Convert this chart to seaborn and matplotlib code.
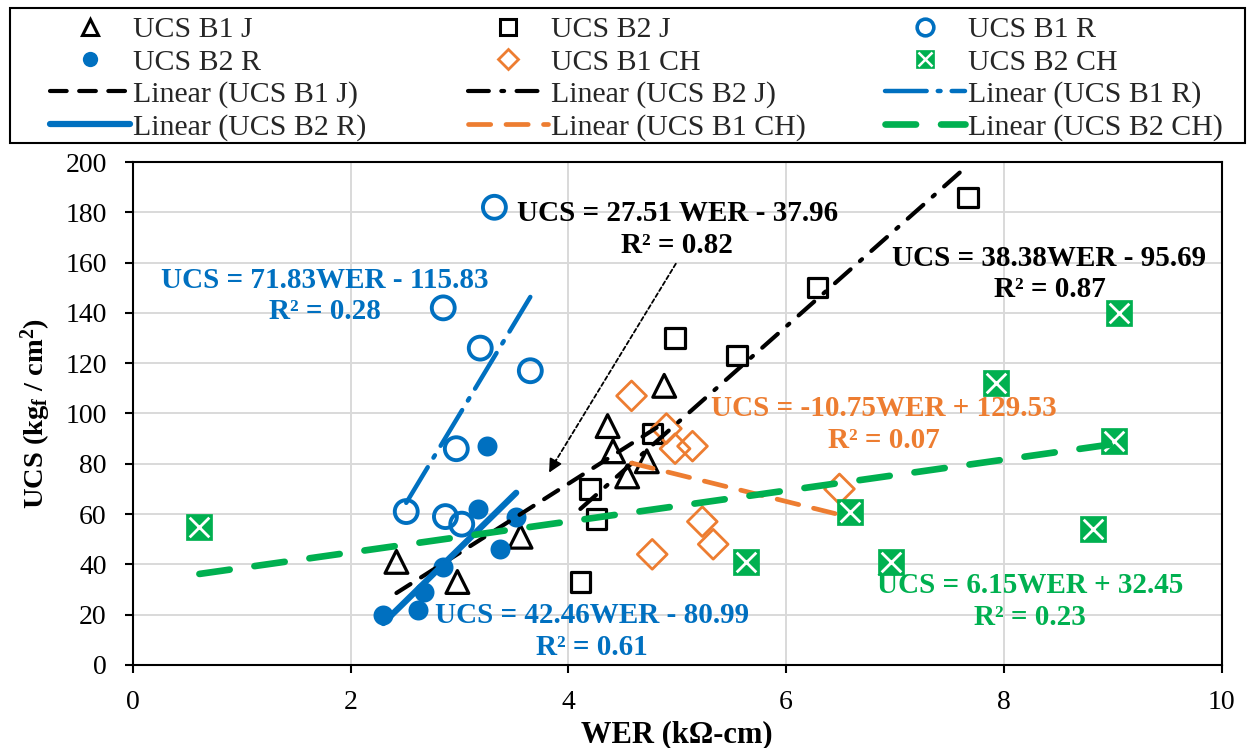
import numpy as np
import pandas as pd
import matplotlib
matplotlib.use("Agg")
import matplotlib.pyplot as plt
from matplotlib.lines import Line2D
from matplotlib.patches import Rectangle
import seaborn as sns

# Values (WER in kOhm-cm, UCS in kgf/cm2)
b1j_wer = [2.42, 2.98, 3.56, 4.36, 4.41, 4.54, 4.72, 4.88]
b1j_ucs = [41, 33, 51, 95, 85, 75, 81, 111]
b2j_wer = [4.11, 4.20, 4.26, 4.77, 4.98, 5.55, 6.29, 7.67]
b2j_ucs = [33, 70, 58, 92, 130, 123, 150, 186]
b1r_wer = [2.51, 2.85, 2.87, 2.97, 3.02, 3.19, 3.32, 3.65]
b1r_ucs = [61, 142, 59, 86, 56, 126, 182, 117]
b2r_wer = [2.30, 2.62, 2.67, 2.85, 3.17, 3.25, 3.37, 3.52]
b2r_ucs = [20, 22, 29, 39, 62, 87, 46, 59]
b1ch_wer = [4.58, 4.77, 4.90, 4.98, 5.14, 5.23, 5.33, 6.49]
b1ch_ucs = [107, 44, 94, 86, 87, 57, 48, 70]
b2ch_wer = [0.61, 5.63, 6.59, 6.96, 7.93, 8.82, 9.01, 9.06]
b2ch_ucs = [55, 41, 61, 41, 112, 54, 89, 140]

names = ["UCS B1 J", "UCS B2 J", "UCS B1 R", "UCS B2 R", "UCS B1 CH", "UCS B2 CH"]

# linear trendline coefficients as printed on the chart
fit_slope = [27.51, 38.38, 71.83, 42.46, -10.75, 6.15]
fit_icpt = [-37.96, -95.69, -115.83, -80.99, 129.53, 32.45]
fit_r2 = [0.82, 0.87, 0.28, 0.61, 0.07, 0.23]

blue = "#0070C0"
orange = "#ED7D31"
green = "#00B050"

sns.set_theme(style="ticks")
plt.rcParams['font.family'] = ['Liberation Serif', 'DejaVu Serif']
plt.rcParams['mathtext.fontset'] = 'custom'
plt.rcParams['mathtext.rm'] = 'Liberation Serif'
plt.rcParams['mathtext.bf'] = 'Liberation Serif:bold'
plt.rcParams['mathtext.it'] = 'Liberation Serif:italic'
plt.rcParams['lines.scale_dashes'] = False

fig = plt.figure(figsize=(12.49, 7.48), dpi=100)
ax = fig.add_axes([0.1065, 0.111, 0.8715, 0.6724])

wer = [b1j_wer, b2j_wer, b1r_wer, b2r_wer, b1ch_wer, b2ch_wer]
ucs = [b1j_ucs, b2j_ucs, b1r_ucs, b2r_ucs, b1ch_ucs, b2ch_ucs]

# marker style of each series
pt_style = [
    dict(marker="^", s=270, facecolor="none", edgecolor="black", linewidth=2.3),
    dict(marker="s", s=196, facecolor="none", edgecolor="black", linewidth=2.3),
    dict(marker="o", s=272, facecolor="none", edgecolor=blue, linewidth=2.8),
    dict(marker="o", s=207, facecolor=blue, edgecolor=blue, linewidth=0),
    dict(marker="D", s=230, facecolor="none", edgecolor=orange, linewidth=2.0),
    dict(marker="s", s=350, facecolor=green, edgecolor=green, linewidth=0.5),
]

for i in range(6):
    df = pd.DataFrame({"WER": wer[i], "UCS": ucs[i]})
    sns.scatterplot(data=df, x="WER", y="UCS", ax=ax, legend=False, zorder=3, **pt_style[i])
    if i == 5:
        sns.scatterplot(data=df, x="WER", y="UCS", ax=ax, legend=False, zorder=3.1,
                        marker="x", s=200, color="white", linewidth=2.0)

# trendline styles
ln_style = [
    dict(color="black", lw=3.0, dashes=(12, 9)),
    dict(color="black", lw=3.0, dashes=(15, 9, 2, 9)),
    dict(color=blue, lw=3.2, dashes=(30, 8, 2, 8)),
    dict(color=blue, lw=4.5, dashes=()),
    dict(color=orange, lw=3.4, dashes=(16, 11)),
    dict(color=green, lw=4.8, dashes=(22, 18)),
]

for i in range(6):
    xs = np.array([min(wer[i]), max(wer[i])])
    ys = fit_slope[i] * xs + fit_icpt[i]
    sty = dict(ln_style[i])
    d = sty.pop("dashes")
    if d:
        sty["linestyle"] = (0, d)
    sns.lineplot(x=xs, y=ys, ax=ax, zorder=4, solid_capstyle="round",
                 dash_capstyle="round", **sty)

ax.set_xlim(0, 10)
ax.set_ylim(0, 200)
ax.set_xticks(range(0, 11, 2))
ax.set_yticks(range(0, 201, 20))
ax.grid(True, color="#D9D9D9", lw=1.4)
ax.set_axisbelow(True)
for sp in ax.spines.values():
    sp.set_color("black")
    sp.set_linewidth(1.5)
ax.tick_params(direction="out", length=6, width=1.5, color="black",
               labelsize=20, labelcolor="black")
ax.tick_params(axis="y", pad=13)
ax.tick_params(axis="x", pad=12)

ax.set_xlabel("WER (kΩ-cm)", fontsize=22, fontweight="bold", color="black", labelpad=4)
ax.set_ylabel(r"UCS (kg$_{\mathbf{f}}$ / cm$^{\mathbf{2}}$)", fontsize=20.5,
              fontweight="bold", color="black", labelpad=9)

# equation labels
eq_text = [
    "UCS = 27.51 WER - 37.96\nR² = 0.82",
    "UCS = 38.38WER - 95.69\nR² = 0.87",
    "UCS = 71.83WER - 115.83\nR² = 0.28",
    "UCS = 42.46WER - 80.99\nR² = 0.61",
    "UCS = -10.75WER + 129.53\nR² = 0.07",
    "UCS = 6.15WER + 32.45\nR² = 0.23",
]
eq_color = ["black", "black", blue, blue, orange, green]
eq_pos = [(5.0, 173.2), (8.42, 155.5), (1.76, 146.7), (4.22, 13.3), (6.90, 95.6), (8.24, 25.2)]
for i in range(6):
    ax.text(eq_pos[i][0], eq_pos[i][1], eq_text[i], color=eq_color[i], fontsize=21,
            fontweight="bold", ha="center", va="center", multialignment="center",
            linespacing=1.2, zorder=5)

# dashed pointer from the B1 J equation
ax.annotate("", xy=(3.86, 79.5), xytext=(5.0, 160.5),
            arrowprops=dict(arrowstyle="-", color="black", lw=1.3, linestyle=(0, (3, 2))))
ax.annotate("", xy=(3.81, 75.5), xytext=(3.90, 82.5),
            arrowprops=dict(arrowstyle="-|>", color="black", lw=1.3, mutation_scale=20))

# legend: three columns laid out like the original
handles = [
    Line2D([], [], ls="none", marker="^", ms=12, mfc="none", mec="black", mew=2.2),
    Line2D([], [], ls="none", marker="s", ms=11, mfc="none", mec="black", mew=2.2),
    Line2D([], [], ls="none", marker="o", ms=12, mfc="none", mec=blue, mew=2.6),
    Line2D([], [], ls="none", marker="o", ms=11, mfc=blue, mec=blue, mew=0),
    Line2D([], [], ls="none", marker="D", ms=10, mfc="none", mec=orange, mew=2.0),
    (Line2D([], [], ls="none", marker="s", ms=13, mfc=green, mec=green, mew=0.5),
     Line2D([], [], ls="none", marker="x", ms=10, mec="white", mew=1.8)),
]
for i in range(6):
    sty = dict(ln_style[i])
    d = sty.pop("dashes")
    if d:
        sty["linestyle"] = (0, d)
    handles.append(Line2D([], [], solid_capstyle="round", dash_capstyle="round", **sty))
labels = names + ["Linear (" + n + ")" for n in names]

col_x = [0.040, 0.3747, 0.7086]
for c in range(3):
    fig.legend(handles[c::3], labels[c::3], loc="upper left",
               bbox_to_anchor=(col_x[c], 0.978), frameon=False, fontsize=21.5,
               handlelength=2.68, handletextpad=0.1, labelspacing=0.18,
               borderpad=0, borderaxespad=0)

fig.add_artist(Rectangle((10 / 1249, 1 - 143 / 748), 1235 / 1249, 135 / 748,
                         transform=fig.transFigure, fill=False, edgecolor="black", lw=1.5))

fig.savefig("out.png", dpi=100)
